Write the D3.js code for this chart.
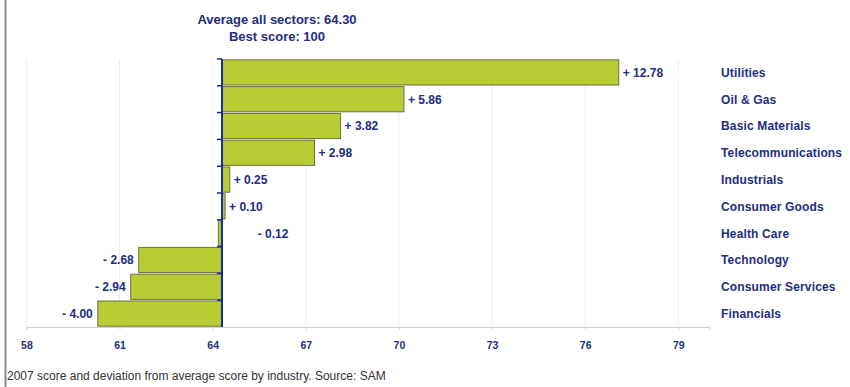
<!DOCTYPE html>
<html>
<head>
<meta charset="utf-8">
<script src="https://cdn.jsdelivr.net/npm/d3@7/dist/d3.min.js"></script>
<style>
  html, body { margin: 0; padding: 0; background: #fff; }
  svg { display: block; font-family: "Liberation Sans", Arial, Helvetica, sans-serif; }
</style>
</head>
<body>
<svg id="chart" width="850" height="387"></svg>
<script>
// Sector scores 2007: deviation from the all-sector average
const average = 64.30;
const bestScore = 100;
const sectors = ["Utilities", "Oil & Gas", "Basic Materials", "Telecommunications", "Industrials",
                 "Consumer Goods", "Health Care", "Technology", "Consumer Services", "Financials"];
const deviations = [12.78, 5.86, 3.82, 2.98, 0.25, 0.10, -0.12, -2.68, -2.94, -4.00];
const xTicks = [58, 61, 64, 67, 70, 73, 76, 79];
const xDomain = [58, 80];

const navy = "#242d80";
const svg = d3.select("#chart");

const x = d3.scaleLinear().domain(xDomain).range([26.4, 709.4]);
const y = d3.scaleBand().domain(sectors).range([59, 327]).paddingInner(0.06).paddingOuter(0.03);
const plotTop = 59, plotBottom = 327;

// left frame line
svg.append("line")
  .attr("x1", 5.5).attr("x2", 5.5).attr("y1", 0).attr("y2", 387)
  .attr("stroke", "#8a8a8a").attr("stroke-width", 2);

// vertical gridlines
svg.append("g").selectAll("line").data(xTicks).join("line")
  .attr("x1", d => x(d)).attr("x2", d => x(d))
  .attr("y1", plotTop).attr("y2", plotBottom)
  .attr("stroke", "#eeeeee").attr("stroke-width", 1);

// bottom axis
const xAxis = d3.axisBottom(x).tickValues(xTicks).tickSize(3).tickPadding(12).tickFormat(d3.format("d"));
const gx = svg.append("g").attr("transform", `translate(0,${plotBottom})`).call(xAxis);
gx.select(".domain").attr("stroke", "#cfcfcf");
gx.selectAll(".tick line").attr("stroke", "#dddddd");
gx.selectAll(".tick text")
  .attr("fill", navy).attr("font-size", 10.5).attr("font-weight", "bold");

// bars
const rows = sectors.map((s, i) => ({ sector: s, dev: deviations[i] }));
svg.append("g").selectAll("rect").data(rows).join("rect")
  .attr("x", d => x(Math.min(average, average + d.dev)))
  .attr("width", d => Math.abs(x(average + d.dev) - x(average)))
  .attr("y", d => y(d.sector))
  .attr("height", y.bandwidth())
  .attr("fill", "#b8cd34")
  .attr("stroke", "#6f7040").attr("stroke-width", 1);

// average line with category ticks
svg.append("line")
  .attr("x1", x(average)).attr("x2", x(average))
  .attr("y1", plotTop).attr("y2", plotBottom)
  .attr("stroke", "#1b2a9c").attr("stroke-width", 2);
svg.append("g").selectAll("line").data(d3.range(sectors.length)).join("line")
  .attr("x1", x(average) - 5).attr("x2", x(average))
  .attr("y1", i => y(sectors[i]) - y.step() * y.paddingInner() / 2)
  .attr("y2", i => y(sectors[i]) - y.step() * y.paddingInner() / 2)
  .attr("stroke", "#1b2a9c").attr("stroke-width", 1.5);

// value labels
const fmt = d3.format(".2f");
svg.append("g").selectAll("text").data(rows).join("text")
  .attr("x", d => {
    if (d.dev >= 0) return x(average + d.dev) + 4;
    if (Math.abs(d.dev) < 0.5) return x(average + 1.15);
    return x(average + d.dev) - 5;
  })
  .attr("text-anchor", d => (d.dev < 0 && Math.abs(d.dev) >= 0.5) ? "end" : "start")
  .attr("y", d => y(d.sector) + y.bandwidth() / 2)
  .attr("dy", "0.36em")
  .attr("fill", navy).attr("font-size", 12).attr("font-weight", "bold")
  .text(d => (d.dev >= 0 ? "+ " : "- ") + fmt(Math.abs(d.dev)));

// category labels
svg.append("g").selectAll("text").data(sectors).join("text")
  .attr("x", 721)
  .attr("y", d => y(d) + y.bandwidth() / 2)
  .attr("dy", "0.36em")
  .attr("fill", navy).attr("font-size", 12).attr("font-weight", "bold")
  .attr("letter-spacing", 0.15)
  .text(d => d);

// heading
svg.append("text").attr("x", 277).attr("y", 23.5).attr("text-anchor", "middle")
  .attr("fill", navy).attr("font-size", 13).attr("font-weight", "bold")
  .text(`Average all sectors: ${fmt(average)}`);
svg.append("text").attr("x", 277).attr("y", 41).attr("text-anchor", "middle")
  .attr("fill", navy).attr("font-size", 13).attr("font-weight", "bold")
  .text(`Best score: ${bestScore}`);

// caption
svg.append("text").attr("x", 7).attr("y", 380)
  .attr("fill", "#333333").attr("font-size", 12)
  .text("2007 score and deviation from average score by industry. Source: SAM");
</script>
</body>
</html>
